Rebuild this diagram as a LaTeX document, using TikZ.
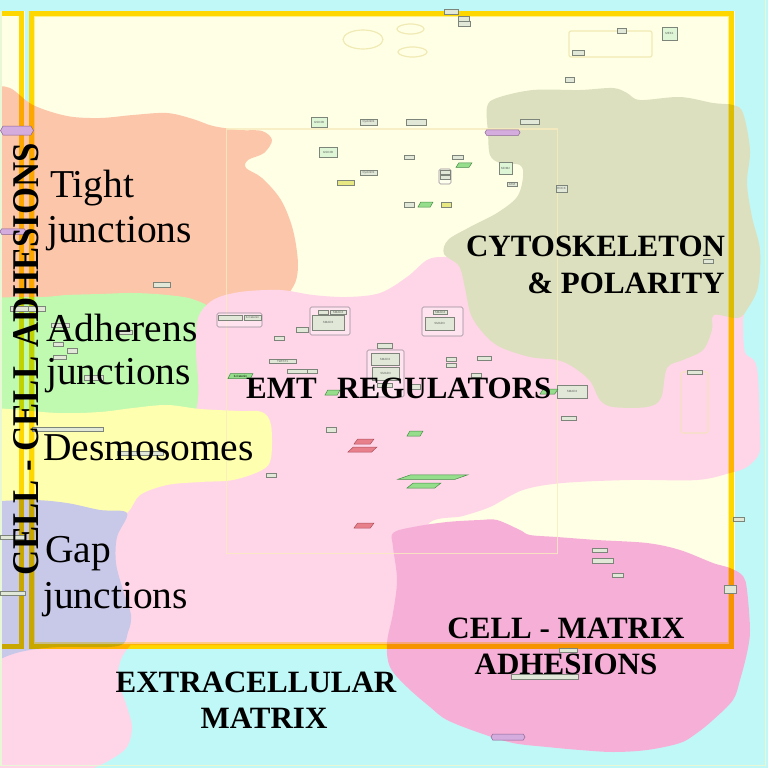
\documentclass[tikz,border=0pt]{standalone}
\usepackage{graphicx}
\usepackage{fontspec}
\setmainfont{Liberation Serif}
\newfontfamily\tinysans{Liberation Sans}
\usetikzlibrary{shapes.geometric,shapes.symbols}
\newcommand\tinyf{\tinysans\fontsize{3}{3}\selectfont}
\definecolor{cyanbg}{RGB}{192,248,248}
\definecolor{ybg}{RGB}{255,255,230}
\definecolor{tightc}{RGB}{252,198,170}
\definecolor{adhc}{RGB}{192,250,176}
\definecolor{desmc}{RGB}{255,255,176}
\definecolor{gapc}{RGB}{200,200,232}
\definecolor{emtc}{RGB}{255,214,232}
\definecolor{cytoc}{RGB}{220,224,190}
\definecolor{cmc}{RGB}{246,176,216}
\definecolor{goldc}{RGB}{255,215,0}
\definecolor{goldl}{RGB}{255,240,150}
\definecolor{subline}{RGB}{248,236,190}
\definecolor{palel}{RGB}{240,234,180}
\definecolor{boxd}{RGB}{125,132,122}
\definecolor{boxf}{RGB}{226,232,216}
\definecolor{boxt}{RGB}{95,100,95}
\definecolor{lgf}{RGB}{222,246,214}
\definecolor{grf}{RGB}{150,222,140}
\definecolor{grd}{RGB}{70,140,70}
\definecolor{redf}{RGB}{232,128,140}
\definecolor{redd}{RGB}{170,80,90}
\definecolor{yelf}{RGB}{232,232,130}
\definecolor{purf}{RGB}{212,172,222}
\definecolor{purd}{RGB}{140,100,150}
\definecolor{cplx}{RGB}{150,140,150}
\definecolor{outl}{RGB}{232,248,215}
\definecolor{rrpale}{RGB}{245,225,195}
\begin{document}
\begin{tikzpicture}[x=1pt,y=-1pt,
  sz/.style 2 args={minimum width=#1pt, minimum height=#2pt},
  gb/.style={rectangle, draw=boxd, line width=0.5pt, fill=boxf, inner sep=0pt, font=\tinyf, text=boxt},
  lg/.style={gb, fill=lgf},
  yb/.style={gb, fill=yelf},
  gp/.style={trapezium, trapezium left angle=60, trapezium right angle=120, trapezium stretches=true, draw=grd, line width=0.5pt, fill=grf, inner xsep=1pt, inner ysep=0.5pt, font=\tinyf},
  rp/.style={gp, draw=redd, fill=redf},
  hx/.style={signal, signal to=east and west, signal pointer angle=120, draw=purd, line width=0.5pt, fill=purf, inner sep=0.5pt},
  cx/.style={rectangle, rounded corners=1.5pt, draw=cplx, line width=0.6pt, fill=white, fill opacity=0.35, inner sep=0pt},
  ell/.style={ellipse, draw=palel, line width=1.2pt, inner sep=0pt},
  rr/.style={rectangle, rounded corners=2pt, draw=palel, line width=1.2pt, inner sep=0pt},
  lab/.style={inner sep=0pt, anchor=base west, font=\fontsize{39.5}{40}\selectfont},
  blab/.style={inner sep=0pt, anchor=base, font=\bfseries\fontsize{31}{31}\selectfont},
  frame/.style={draw=goldc, line width=5pt},
  framel/.style={draw=goldl, line width=1.5pt}]
\useasboundingbox (0,0) rectangle (768,768);
\fill[cyanbg] (0,0) rectangle (768,768);
% compartment interiors
\fill[ybg] (-20,11) rectangle (24.5,649);
\fill[ybg] (28.5,11) rectangle (735,649);
% regions
\fill[tightc] plot[smooth cycle, tension=0.55] coordinates {(-30,95) (-10,87) (10,88) (33,105) (67,116) (100,118) (133,115) (167,113) (193,119) (213,126) (240,130) (262,131) (272,140) (264,153) (248,160) (246,168) (262,178) (281,200) (293,230) (298,265) (293,287) (275,300) (200,310) (100,310) (-30,310)};
\fill[adhc] plot[smooth cycle, tension=0.55] coordinates {(-30,305) (-10,298) (43,297) (67,295) (100,294) (133,293) (167,295) (195,300) (212,315) (214,380) (214,430) (100,435) (-30,435)};
\fill[emtc] plot[smooth, tension=0.55] coordinates {(430,645) (432,585) (427,526) (463,516) (490,507) (523,490) (563,483) (630,480) (697,480) (730,473) (747,467) (759,454) (760,437) (757,368) (745,352) (743,322) (742,312) (712,312) (640,335) (560,340) (505,322) (482,288) (462,260) (443,257) (427,260) (407,277) (380,293) (347,297) (313,295) (280,290) (240,292) (213,300) (198,318) (196,350) (196,410) (160,470) (100,520) (100,600) (105,645)} -- cycle;
\fill[desmc] plot[smooth cycle, tension=0.55] coordinates {(-30,414) (-10,408) (57,413) (100,412) (133,408) (167,405) (200,409) (240,411) (262,412) (271,425) (271,458) (262,470) (233,480) (200,482) (167,485) (140,495) (127,513) (100,525) (-30,525)};
\fill[emtc] plot[smooth, tension=0.55] coordinates {(135,640) (122,657) (118,678) (127,707) (132,727) (127,747) (110,760) (85,772)} -- (-10,772) -- (-10,640) -- cycle;
\fill[gapc] plot[smooth, tension=0.55] coordinates {(-30,508) (-10,502) (33,500) (67,503) (100,510) (127,513) (117,537) (116,563) (123,590) (131,615) (128,632) (118,646) (60,647) (30,650) (10,655) (-10,664)} -- cycle;
\fill[cytoc] plot[smooth cycle, tension=0.55] coordinates {(487,107) (497,98) (533,90) (580,90) (613,88) (627,93) (640,100) (680,97) (713,103) (733,105) (743,113) (750,150) (747,183) (752,217) (760,250) (758,287) (748,308) (738,318) (714,315) (712,330) (703,350) (683,360) (667,368) (661,398) (647,407) (613,407) (600,400) (590,381) (573,367) (557,360) (530,357) (500,347) (484,334) (471,315) (465,288) (459,266) (444,254) (448,240) (470,227) (497,213) (517,197) (523,177) (520,165) (500,163) (490,155) (488,133)};
\fill[cmc] plot[smooth cycle, tension=0.55] coordinates {(393,533) (413,527) (447,522) (480,520) (497,520) (520,530) (530,535) (557,537) (597,540) (647,543) (680,550) (713,563) (730,568) (743,576) (747,590) (750,630) (747,653) (740,680) (733,700) (713,720) (697,733) (680,743) (647,750) (613,752) (580,750) (547,747) (513,743) (480,733) (447,720) (430,707) (407,687) (390,667) (387,643) (393,613) (397,580) (393,547)};
% compartment frames
\begin{scope}[blend mode=multiply]
\draw[frame] (-20,13.5) rectangle (21.5,646);
\draw[frame] (31.5,13.5) rectangle (731.5,646);
\draw[framel] (34.5,16.5) rectangle (728.5,643);
\end{scope}
\draw[outl, line width=1.5pt] (1,11) -- (1,765.5) -- (765.5,765.5) -- (765.5,0);
% submap frame
\draw[subline, line width=1.5pt, opacity=0.8] (226.5,129) rectangle (557.5,553.5);
% top elements
\node[ell, sz={40}{19}] (e1) at (363,39.5) {};
\node[ell, sz={27}{10}] (e2) at (410.5,29) {};
\node[ell, sz={29}{10}] (e3) at (412.5,52) {};
\node[gb, sz={14}{5}] (b01) at (451,11.5) {};
\node[gb, sz={11}{5}] (b02) at (463.5,18.5) {};
\node[gb, sz={12}{5}] (b03) at (464,23.5) {};
\node[rr, sz={83}{26}] (rr1) at (610.5,44) {};
\node[gb, sz={9}{4.5}] (b04) at (621.5,31) {};
\node[gb, sz={12}{4.5}] (b05) at (578,53) {};
\node[lg, sz={15}{13}] (b06) at (669.5,33.5) {MEK1};
\node[gb, sz={9}{5}] (b07) at (569.5,79.5) {};
\node[lg, sz={16}{10}] (b08) at (319,122) {GSK3B};
\node[gb, sz={17}{6}] (b09) at (368.5,122) {CyclinD1};
\node[gb, sz={20}{6}] (b10) at (416,122) {};
\node[gb, sz={19}{5}] (b11) at (529.5,121.5) {};
\node[hx, sz={35}{5.5}] (h1) at (502.5,132.5) {};
\node[hx, sz={33}{9}] (h2) at (17,130.5) {};
\node[hx, sz={26}{5.5}] (h3) at (13,231.5) {};
\node[lg, sz={18}{10}] (b12) at (328,152) {GSK3B};
\node[gb, sz={17}{5}] (b13) at (368.5,172.5) {CyclinD1};
\node[yb, sz={17}{5}] (y1) at (345.5,182.5) {};
\node[gb, sz={10}{4.5}] (b14) at (409,157) {};
\node[gb, sz={11}{4.5}] (b15) at (457.5,157) {};
\node[gp, sz={16}{4.5}] (p1) at (464,165) {};
\node[cx, sz={12}{15}] (c1) at (445,176.5) {};
\node[gb, sz={10}{4}] (c1a) at (445,172) {};
\node[gb, sz={10}{4}] (c1b) at (445,177) {};
\node[lg, sz={13}{12}] (b16) at (505.5,168) {MDM2};
\node[gb, sz={10}{4.5}] (b17) at (512,184) {ATM};
\node[gb, sz={10}{5}] (b18) at (409,204.5) {};
\node[gp, sz={15}{5}] (p2) at (425.5,204.5) {};
\node[yb, sz={10}{5}] (y2) at (446,204.5) {};
\node[gb, sz={11}{7}] (b19) at (561.5,188.5) {ROCK};
\node[gb, sz={17}{5}] (b20) at (161.5,284.5) {};
\node[gb, sz={10}{4}] (b21) at (708,261) {};
% left column elements
\node[gb, sz={18}{5}] (b22) at (19,308.5) {};
\node[gb, sz={17}{5}] (b23) at (36.5,308.5) {};
\node[gb, sz={18}{4.5}] (b24) at (60,325) {};
\node[gb, sz={10}{4.5}] (b25) at (58,344) {};
\node[gb, sz={10}{5}] (b26) at (72,350.5) {};
\node[gb, sz={13}{4}] (b27) at (59.5,357.5) {};
\node[gb, sz={19}{5}] (b28) at (93.5,377.5) {};
\node[gb, sz={13}{4.5}] (b29) at (125.5,332) {};
\node[gb, sz={71}{4.5}] (b30) at (67.5,429) {};
\node[gb, sz={46}{4.5}] (b31) at (140,453) {};
\node[gb, sz={10}{4.5}] (b32) at (271,475) {};
\node[gb, sz={25}{4.5}] (b33) at (12.5,537) {};
\node[gb, sz={25}{4.5}] (b34) at (12.5,593) {};
% EMT elements
\node[cx, sz={45}{14}] (c2) at (239.5,320) {};
\node[gb, sz={24}{5}] (c2a) at (230,317.5) {};
\node[gb, sz={17}{5}] (c2b) at (252.5,317.5) {b-Catenin};
\node[cx, sz={40}{28}] (c3) at (330,321) {};
\node[gb, sz={10}{4.5}] (c3a) at (323,312) {};
\node[gb, sz={16}{4.5}] (c3b) at (338,312) {SMAD4};
\node[gb, sz={32}{15}] (c3c) at (328,322.5) {SMAD3};
\node[cx, sz={41}{29}] (c4) at (442.5,321.5) {};
\node[gb, sz={14}{4.5}] (c4a) at (440,312) {SMAD4};
\node[gb, sz={29}{13}] (c4b) at (439.5,323.5) {SMAD3};
\node[cx, sz={37}{47}] (c5) at (385.5,373.5) {};
\node[gb, sz={15}{5}] (c5t) at (384.5,345.5) {};
\node[gb, sz={28}{12}] (c5a) at (385,359) {SMAD2};
\node[gb, sz={27}{13}] (c5b) at (385.5,373.5) {SMAD3};
\node[gb, sz={15}{4.5}] (c5c) at (384.5,385) {};
\node[gb, sz={12}{5}] (b35) at (302,329.5) {};
\node[gb, sz={10}{4}] (b36) at (279,338.5) {};
\node[gb, sz={27}{4.5}] (b37) at (282.5,361) {TWIST1};
\node[gb, sz={20}{4.5}] (b38) at (297,371) {};
\node[gb, sz={10}{4.5}] (b39) at (312,371) {};
\node[gp, sz={25}{5}] (p4) at (240.5,376) {b-Catenin};
\node[gb, sz={10}{5}] (b40) at (415,386.5) {};
\node[gb, sz={10}{4.5}] (b41) at (451,359) {};
\node[gb, sz={10}{4.5}] (b42) at (451,365) {};
\node[gb, sz={14}{4.5}] (b43) at (484,358) {};
\node[gb, sz={10}{4.5}] (b44) at (476,375) {};
\node[gp, sz={15}{5}] (p5) at (332.5,392.5) {};
\node[gb, sz={10}{5}] (b45) at (331,429.5) {};
\node[gp, sz={16}{5}] (p6) at (415,433.5) {};
\node[rp, sz={20}{5}] (r1) at (364,441.5) {};
\node[rp, sz={29}{5}] (r2) at (362.5,449.5) {};
\node[gp, sz={70}{4.5}] (p7) at (433,477) {};
\node[gp, sz={34}{5}] (p8) at (424,485.5) {};
\node[rp, sz={20}{5}] (r3) at (364,525.5) {};
\node[rr, sz={27}{61}, draw=rrpale] (rr2) at (694.5,402.5) {};
\node[gb, sz={15}{4.5}] (b46) at (694.5,372) {};
\node[gb, sz={30}{13}] (b47) at (572,391.5) {SMAD2};
\node[gp, sz={18}{5}] (p9) at (549,391.5) {};
\node[gb, sz={15}{4.5}] (b48) at (568.5,418) {};
% cell-matrix elements
\node[gb, sz={15}{4.5}] (b49) at (599.5,550) {};
\node[gb, sz={21}{4.5}] (b50) at (602.5,560.5) {};
\node[gb, sz={11}{4.5}] (b51) at (617.5,575) {};
\node[gb, sz={11}{4.5}] (b52) at (738.5,519) {};
\node[gb, sz={12}{8}] (b53) at (730,589) {};
\node[gb, sz={18}{4.5}] (b54) at (568,650) {};
\node[gb, sz={67}{4.5}] (b55) at (544.5,676.5) {};
\node[hx, sz={34}{6}] (h4) at (508,737) {};
% region labels
\node[lab] (tj1) at (50,197) {Tight};
\node[lab] (tj2) at (47,242) {junctions};
\node[lab] (aj1) at (46,341) {Adherens};
\node[lab] (aj2) at (46,384) {junctions};
\node[lab] (ds) at (43,460) {Desmosomes};
\node[lab] (gj1) at (45,562) {Gap};
\node[lab] (gj2) at (43,608) {junctions};
\node[blab] (cy1) at (595.5,256) {CYTOSKELETON};
\node[blab] (cy2) at (626,293) {\& POLARITY};
\node[blab, anchor=base west] (emt1) at (246,398) {EMT};
\node[blab, anchor=base west] (emt2) at (337,398) {REGULATORS};
\node[blab] (cm1) at (566,638) {CELL - MATRIX};
\node[blab] (cm2) at (566,674) {ADHESIONS};
\node[blab] (ex1) at (256,692) {EXTRACELLULAR};
\node[blab] (ex2) at (264,728) {MATRIX};
\node[rotate=90, inner sep=0pt] (cca) at (26,359) {\resizebox{432pt}{25pt}{\bfseries CELL - CELL ADHESIONS}};
\end{tikzpicture}
\end{document}
